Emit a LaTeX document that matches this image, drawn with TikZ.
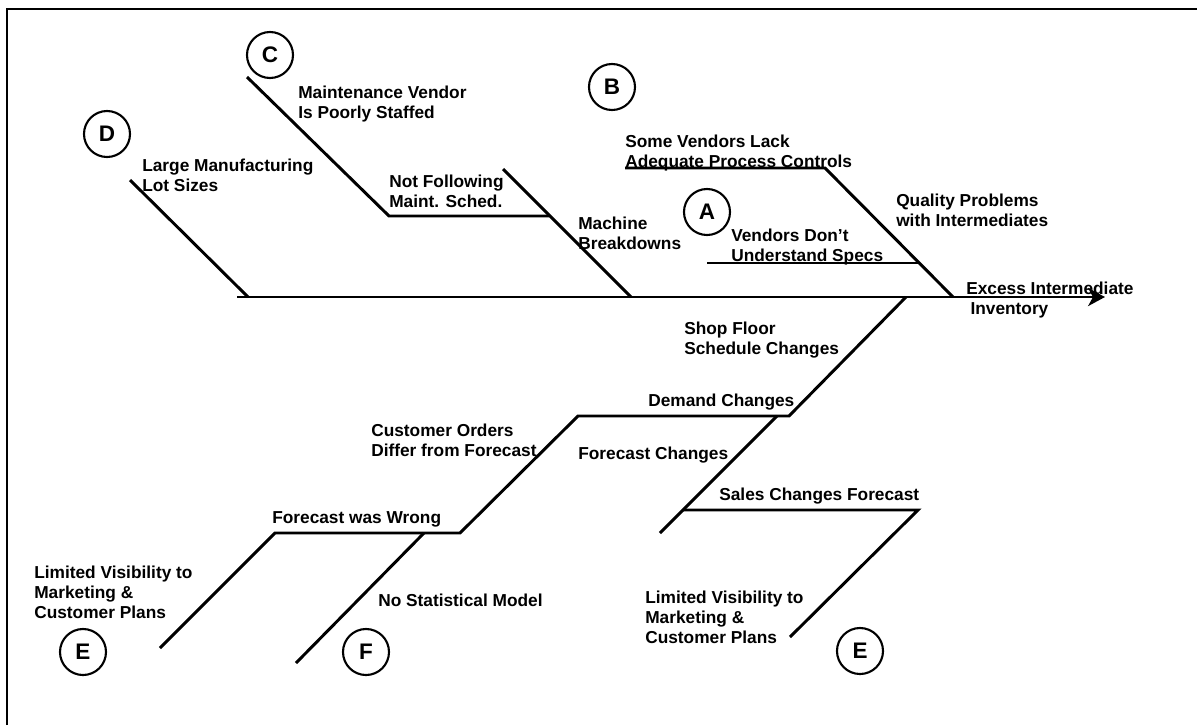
\documentclass[tikz,border=0pt]{standalone}
\usepackage{fontspec}
\setmainfont{Liberation Sans}
\usetikzlibrary{arrows.meta}

\tikzset{
  bone/.style={line width=2.1pt},
  tag/.style={circle, draw, line width=1.5pt, minimum size=1.15cm, inner sep=0pt,
              font=\bfseries\fontsize{16}{16}\selectfont},
  cause/.style={anchor=base west, align=left, inner sep=0pt,
                font=\bfseries\fontsize{12.3}{14.2}\selectfont}
}

\begin{document}
\begin{tikzpicture}[x=0.025cm, y=-0.025cm]
    \useasboundingbox (0,0) rectangle (1197,725);
    % Frame
    \draw[line width=2pt] (7,725) -- (7,9) -- (1197,9);

    % Spine
    \coordinate (tail) at (237,297);
    \coordinate (head) at (1105,297);
    \draw[bone, -{Stealth[length=0.42cm, width=0.45cm, inset=0.12cm]}] (tail) -- (head);
    \node[cause] (effect) at (966,314) {Excess Intermediate\\\hspace*{3pt}Inventory};

    % Upper bones
    \coordinate (dtop) at (130,180);
    \coordinate (djoin) at (248,297);
    \draw[bone] (dtop) -- (djoin);
    \coordinate (mtop) at (503,169);
    \coordinate (mknee) at (549,216);
    \coordinate (mjoin) at (631,297);
    \draw[bone] (mtop) -- (mjoin);
    \coordinate (ctop) at (247,77);
    \coordinate (cknee) at (389,216);
    \draw[bone] (ctop) -- (cknee) -- (mknee);
    \coordinate (vend) at (625,168);
    \coordinate (qknee) at (825,168);
    \coordinate (qjoin) at (953,297);
    \draw[bone] (vend) -- (qknee) -- (qjoin);
    \coordinate (sleft) at (707,263);
    \coordinate (sright) at (919,263);
    \draw[bone] (sleft) -- (sright);

    % Lower bones
    \coordinate (fjoin) at (906,297);
    \coordinate (fknee) at (789,416);
    \coordinate (dleft) at (578,416);
    \coordinate (wright) at (460,533);
    \coordinate (wleft) at (275,533);
    \coordinate (eend) at (160,648);
    \draw[bone] (fjoin) -- (fknee) -- (dleft) -- (wright) -- (wleft) -- (eend);
    \coordinate (gtop) at (777,416);
    \coordinate (gend) at (660,533);
    \draw[bone] (gtop) -- (gend);
    \coordinate (sknee) at (683,510);
    \coordinate (sfar) at (918,510);
    \coordinate (send) at (790,637);
    \draw[bone] (sknee) -- (sfar) -- (send);
    \coordinate (ntop) at (424,533);
    \coordinate (nend) at (296,663);
    \draw[bone] (ntop) -- (nend);

    % Cause labels
    \node[cause] (maint) at (298,118) {Maintenance Vendor\\Is Poorly Staffed};
    \node[cause] (lots) at (142,191) {Large Manufacturing\\Lot Sizes};
    \node[cause] (sched) at (389,207) {Not Following\\Maint. Sched.};
    \node[cause] (mach) at (578,249) {Machine\\Breakdowns};
    \node[cause] (lack) at (625,167) {Some Vendors Lack\\Adequate Process Controls};
    \node[cause] (qual) at (896,226) {Quality Problems\\with Intermediates};
    \node[cause] (specs) at (731,261) {Vendors Don’t\\Understand Specs};
    \node[cause] (shop) at (684,354) {Shop Floor\\Schedule Changes};
    \node[cause] (demand) at (648,406) {Demand Changes};
    \node[cause] (fcchg) at (578,459) {Forecast Changes};
    \node[cause] (sales) at (719,500) {Sales Changes Forecast};
    \node[cause] (orders) at (371,456) {Customer Orders\\Differ from Forecast};
    \node[cause] (wrong) at (272,523) {Forecast was Wrong};
    \node[cause] (model) at (378,606) {No Statistical Model};
    \node[cause] (visl) at (34,618) {Limited Visibility to\\Marketing \&\\Customer Plans};
    \node[cause] (visr) at (645,643) {Limited Visibility to\\Marketing \&\\Customer Plans};

    % Category tags
    \node[tag] (tagA) at (707,212) {A};
    \node[tag] (tagB) at (612,87) {B};
    \node[tag] (tagC) at (270,55) {C};
    \node[tag] (tagD) at (107,134) {D};
    \node[tag] (tagEl) at (83,652) {E};
    \node[tag] (tagF) at (366,652) {F};
    \node[tag] (tagEr) at (860,651) {E};
\end{tikzpicture}
\end{document}
